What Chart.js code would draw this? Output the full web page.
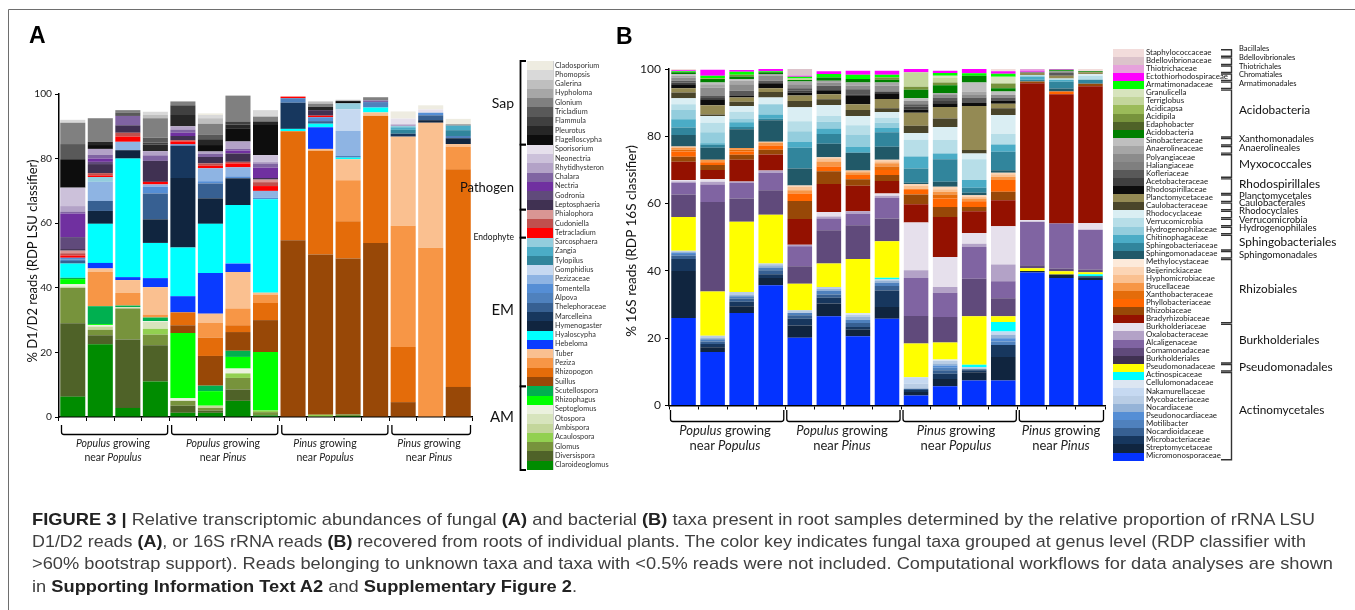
<!DOCTYPE html>
<html><head><meta charset="utf-8">
<script src="https://cdn.jsdelivr.net/npm/chart.js@4.4.1/dist/chart.umd.min.js"></script>
<style>
html,body{margin:0;padding:0;background:#fff;}
body{width:1355px;height:610px;position:relative;overflow:hidden;font-family:Lato,sans-serif;}
.abs{position:absolute;white-space:nowrap;}
canvas{position:absolute;}
.cap{position:absolute;left:32px;white-space:nowrap;font-family:"Liberation Sans",Arial,sans-serif;font-size:17px;color:#404040;height:22.4px;line-height:22.4px;}
.cap span.in{display:inline-block;transform-origin:0 50%;}
.cap b{color:#222;}
</style></head>
<body>
<canvas id="cA" width="480" height="345" style="left:0px;top:84px"></canvas>
<canvas id="cB" width="515" height="360" style="left:600px;top:55px"></canvas>
<svg id="ov" width="1355" height="610" style="position:absolute;left:0;top:0;pointer-events:none"></svg>
<script>
// ---------------- categories / groups ----------------
const sampleLabels = ['PoPo1','PoPo2','PoPo3','PoPo4','PoPi1','PoPi2','PoPi3','PoPi4','PiPo1','PiPo2','PiPo3','PiPo4','PiPi1','PiPi2','PiPi3'];
const groupSizes = [4,4,4,3];
const groupHost = ['Populus','Populus','Pinus','Pinus'];
const groupNeighbor = ['Populus','Pinus','Populus','Pinus'];
const yTicks = [0,20,40,60,80,100];

// ---------------- panel A : fungi (stack order bottom -> top) ----------------
const fungiNames = ['Claroideoglomus','Diversispora','Glomus','Acaulospora','Ambispora','Otospora','Septoglomus','Rhizophagus','Scutellospora','Suillus','Rhizopogon','Peziza','Tuber','Hebeloma','Hyaloscypha','Hymenogaster','Marcelleina','Thelephoraceae','Alpova','Tomentella','Pezizaceae','Gomphidius','Tylopilus','Zangia','Sarcosphaera','Tetracladium','Cudoniella','Phialophora','Leptosphaeria','Godronia','Nectria','Chalara','Rhytidhysteron','Neonectria','Sporisorium','Flagelloscypha','Pleurotus','Flammula','Tricladium','Glonium','Hypholoma','Galerina','Phomopsis','Cladosporium'];
const fungiColors = ['#008C00','#4F6228','#77933C','#92D050','#C3D69B','#D7E4BD','#EBF1DE','#00FF00','#00B050','#984807','#E46C0A','#F79646','#FAC090','#0A3BFF','#00FFFF','#10253F','#17375E','#376092','#4F81BD','#558ED5','#8EB4E3','#C6D9F1','#31859C','#4BACC6','#93CDDD','#FF0000','#C0504D','#D99694','#403152','#604A7B','#7030A0','#8064A2','#B3A2C7','#CCC1DA','#E6E0EC','#0D0D0D','#262626','#404040','#595959','#808080','#A6A6A6','#BFBFBF','#D9D9D9','#EEECE1'];

const fClaroideoglomus = [6.3, 22.5, 2.8, 11.0, 1.3, 1.3, 5.0, 0.5, 0, 0, 0.3, 0, 0, 0, 0];
const fDiversispora   = [22.7, 2.8, 21.2, 11.2, 2.2, 0.7, 3.5, 0, 0, 0, 0, 0, 0, 0, 0];
const fGlomus         = [11.0, 1.7, 9.6, 3.3, 1.5, 0.8, 3.6, 1.0, 0, 0, 0.5, 0, 0, 0, 0];
const fAcaulospora    = [0, 0, 0, 1.8, 0, 0, 1.4, 0.5, 0, 0.7, 0, 0, 0, 0, 0];
const fAmbispora      = [0, 1.0, 0, 0, 0, 0.7, 0, 0, 0, 0, 0, 0, 0, 0, 0];
const fOtospora       = [0.5, 0, 0.4, 2.1, 0, 0, 0, 0, 0, 0, 0, 0, 0, 0, 0];
const fSeptoglomus    = [0.6, 0.5, 0, 0.3, 0.8, 0, 1.5, 0, 0, 0, 0, 0, 0, 0, 0];
const fRhizophagus    = [1.6, 0.3, 0, 0, 20.2, 4.5, 3.6, 18.1, 0, 0, 0, 0, 0, 0, 0];
const fScutellospora  = [0.4, 5.5, 0.5, 1.1, 0, 1.7, 1.9, 0, 0, 0, 0, 0, 0, 0, 0];
const fSuillus        = [0, 0, 0, 0, 2.4, 9.2, 5.8, 9.9, 54.7, 49.6, 48.3, 53.9, 4.6, 0, 9.3];
const fRhizopogon     = [0, 0, 0, 0, 4.0, 5.7, 2.1, 5.3, 33.8, 32.1, 11.5, 39.4, 17.1, 0, 67.4];
const fPeziza         = [0, 10.6, 3.9, 0.9, 0, 4.5, 5.2, 2.6, 0, 0, 12.7, 0, 37.5, 52.4, 7.0];
const fTuber          = [0, 1.1, 4.0, 8.5, 0, 2.9, 11.3, 0.6, 0, 0.6, 6.5, 1.0, 27.6, 38.7, 0.8];
const fHebeloma       = [0, 1.7, 0.9, 2.8, 5.0, 12.6, 2.6, 0, 0, 6.7, 0, 0, 0, 0, 0];
const fHyaloscypha    = [4.4, 12.1, 36.7, 10.9, 15.1, 15.2, 18.1, 28.9, 0.7, 1.1, 0.5, 1.5, 0, 0, 0];
const fHymenogaster   = [0, 4.0, 2.6, 7.3, 21.5, 7.9, 8.3, 0, 0, 0, 0, 0, 0, 0.8, 1.8];
const fMarcelleina    = [0, 0, 0, 0, 10.0, 0, 0, 0, 8.1, 0, 0, 0, 0.9, 0, 0];
const fThelephoraceae = [0.8, 3.1, 0, 8.0, 0, 4.6, 0, 0, 0, 0.8, 0, 0, 0, 1.5, 0];
const fAlpova         = [0.5, 0, 0, 0, 0, 0, 0, 0, 1.4, 0, 0.5, 1.7, 0, 0, 0.7];
const fTomentella     = [0.5, 0, 0, 2.1, 0.4, 0.7, 0.6, 0.5, 0, 1.2, 0, 0, 0, 0.8, 0];
const fPezizaceae     = [0, 5.9, 2.6, 0.7, 0, 4.0, 2.8, 2.1, 0, 0, 7.8, 0, 0, 0, 0];
const fGomphidius     = [0, 0, 0, 0, 0, 0, 0, 0, 0, 0, 6.7, 0, 0, 0, 0];
const fTylopilus      = [0, 0, 0, 0, 0, 0, 0, 0, 0, 0, 0, 0, 1.2, 0, 1.8];
const fZangia         = [0, 0, 0, 0, 0, 0, 0, 0, 0, 0, 0, 0, 0.8, 0, 1.4];
const fSarcosphaera   = [0, 1.5, 0, 0, 0, 0, 0, 0, 0, 0, 1.8, 0, 0.4, 0, 0];
const fTetracladium   = [0.7, 0.5, 1.6, 0.8, 0.9, 0.8, 1.2, 1.5, 0.5, 0.5, 0, 0, 0, 0, 0];
const fCudoniella     = [0.7, 0.7, 1.2, 0, 0.4, 0.7, 0.5, 1.2, 0, 0, 0, 0, 0, 0, 0];
const fPhialophora    = [0.8, 0, 0, 0, 0, 0, 0, 0.8, 0, 0, 0, 0, 0, 0, 0];
const fLeptosphaeria  = [0.5, 2.8, 2.3, 6.5, 1.3, 2.0, 2.6, 0.5, 0, 1.7, 0, 0, 0, 0, 0];
const fGodronia       = [3.7, 0.7, 0, 0, 0, 0, 0, 0, 0, 0, 0, 0, 0, 0, 0];
const fNectria        = [7.3, 1.0, 0, 0, 1.0, 0, 0.9, 3.2, 0, 0, 0, 0, 0, 0, 0];
const fChalara        = [0.6, 1.2, 2.9, 1.7, 1.0, 1.0, 0.5, 1.3, 0, 0, 0, 0.5, 0, 0, 0];
const fRhytidhysteron = [1.7, 1.8, 0, 1.3, 1.0, 0.7, 2.3, 0.5, 0, 0, 0, 0, 0.5, 0, 0];
const fNeonectria     = [5.7, 0, 0, 0, 0, 0, 0, 2.1, 0, 0, 0, 0, 0, 0, 0];
const fSporisorium    = [0, 0, 0, 0, 0, 0, 0, 0, 0, 0, 0, 0, 1.8, 1.0, 0];
const fFlagelloscypha = [8.8, 1.2, 0, 0, 0, 2.0, 4.1, 9.3, 0, 0, 0.7, 0, 0, 0, 0];
const fPleurotus      = [0, 1.0, 0, 2.0, 3.5, 1.8, 1.1, 1.1, 0, 1.0, 0, 0, 0, 0, 0];
const fFlammula       = [0, 0, 0, 0.7, 3.0, 0, 1.0, 0, 0, 0, 0, 0, 0, 0, 0];
const fTricladium     = [4.7, 0, 1.1, 1.5, 0, 1.5, 0, 0, 0, 0, 0, 0, 0, 0, 0];
const fGlonium        = [6.6, 7.3, 0.7, 6.0, 1.2, 3.3, 8.0, 1.5, 0, 1.0, 0, 1.0, 0, 0, 0.4];
const fHypholoma      = [0, 0, 0, 0, 0, 0, 0, 0, 0, 0, 0, 0, 0, 0, 0];
const fGalerina       = [0, 0, 0, 1.0, 0, 1.7, 0, 0, 0, 0.7, 0.4, 0, 0, 0, 0];
const fPhomopsis      = [0.9, 0, 0, 1.0, 0, 1.0, 0, 2.0, 0, 0, 0, 0, 0, 0, 0];
const fCladosporium   = [0, 0, 0, 0, 0, 0.5, 0, 0, 0, 0, 0, 0, 2.2, 1.3, 1.7];
const fungiValues = [fClaroideoglomus,fDiversispora,fGlomus,fAcaulospora,fAmbispora,fOtospora,fSeptoglomus,fRhizophagus,fScutellospora,fSuillus,fRhizopogon,fPeziza,fTuber,fHebeloma,fHyaloscypha,fHymenogaster,fMarcelleina,fThelephoraceae,fAlpova,fTomentella,fPezizaceae,fGomphidius,fTylopilus,fZangia,fSarcosphaera,fTetracladium,fCudoniella,fPhialophora,fLeptosphaeria,fGodronia,fNectria,fChalara,fRhytidhysteron,fNeonectria,fSporisorium,fFlagelloscypha,fPleurotus,fFlammula,fTricladium,fGlonium,fHypholoma,fGalerina,fPhomopsis,fCladosporium];
// legend groups (rows counted from top of legend): [label, firstRow, lastRow, fontSize, labelY]
const fungiGroups = [['Sap',0,8,14,104],['Pathogen',9,15,13,188],['Endophyte',16,18,8.5,237.5],['EM',19,34,15,310],['AM',35,43,15,417]];

// ---------------- panel B : bacteria (stack order bottom -> top) ----------------
const bactNames = ['Micromonosporaceae','Streptomycetaceae','Microbacteriaceae','Nocardioidaceae','Motilibacter','Pseudonocardiaceae','Nocardiaceae','Mycobacteriaceae','Nakamurellaceae','Cellulomonadaceae','Actinospicaceae','Pseudomonadaceae','Burkholderiales','Comamonadaceae','Alcaligenaceae','Oxalobacteraceae','Burkholderiaceae','Bradyrhizobiaceae','Rhizobiaceae','Phyllobacteriaceae','Xanthobacteraceae','Brucellaceae','Hyphomicrobiaceae','Beijerinckiaceae','Methylocystaceae','Sphingomonadaceae','Sphingobacteriaceae','Chitinophagaceae','Hydrogenophilaceae','Verrucomicrobia','Rhodocyclaceae','Caulobacteraceae','Planctomycetaceae','Rhodospirillaceae','Acetobacteraceae','Kofleriaceae','Haliangiaceae','Polyangiaceae','Anaerolineaceae','Sinobacteraceae','Acidobacteria','Edaphobacter','Acidipila','Acidicapsa','Terriglobus','Granulicella','Armatimonadaceae','Ectothiorhodospiraceae','Thiotrichaceae','Bdellovibrionaceae','Staphylococcaceae'];
const bactColors = ['#0433FF','#10253F','#17375E','#376092','#4F81BD','#558ED5','#95B3D7','#B9CDE5','#C6D9F1','#DCE6F2','#00FFFF','#FFFF00','#403152','#604A7B','#8064A2','#B3A2C7','#E6E0EC','#941100','#984807','#FF6600','#E46C0A','#F79646','#FAC090','#FCD5B5','#FDEADA','#215968','#31859C','#4BACC6','#93CDDD','#B7DEE8','#DAEEF3','#4A452A','#948A54','#0D0D0D','#404040','#595959','#7F7F7F','#8C8C8C','#A6A6A6','#BFBFBF','#008000','#4F6228','#77933C','#9BBB59','#C3D69B','#D7E4BD','#00FF00','#FF00FF','#E6A1DC','#DCC3CB','#F2DCDB'];

const bMicromonosporaceae  = [26.0, 15.9, 27.5, 35.7, 20.1, 26.5, 20.6, 25.8, 3.0, 5.7, 7.4, 7.4, 39.5, 37.9, 37.3];
const bStreptomycetaceae   = [14.0, 1.4, 2.0, 2.2, 3.7, 3.8, 1.9, 3.5, 1.0, 2.2, 2.5, 7.0, 0.5, 1.0, 0.7];
const bMicrobacteriaceae   = [3.5, 1.0, 1.3, 1.1, 2.0, 1.7, 0.8, 4.9, 0.6, 1.5, 0.6, 3.6, 0, 0, 0.4];
const bNocardioidaceae     = [1.0, 0.7, 1.0, 1.2, 1.0, 1.0, 1.2, 1.3, 0.4, 1.1, 0.3, 0, 0, 0, 0];
const bMotilibacter        = [0.5, 0.7, 0.7, 0.8, 0.7, 1.0, 1.0, 1.0, 0, 0.7, 0, 1.0, 0, 0, 0];
const bPseudonocardiaceae  = [0.3, 0, 0, 0, 0, 0, 0, 0, 0, 0.7, 0, 1.0, 0, 0, 0];
const bNocardiaceae        = [0.4, 0.5, 0.5, 0.7, 0, 0.7, 0.8, 0.5, 0, 0.6, 0, 1.0, 0, 0, 0];
const bMycobacteriaceae    = [0.3, 0.5, 0.7, 0.5, 0.8, 0.5, 0.7, 0.5, 1.5, 0.7, 0.6, 0, 0, 0, 0];
const bNakamurellaceae     = [0, 0, 0, 0, 0, 0, 0, 0, 1.9, 0, 0, 1.0, 0, 0, 0];
const bCellulomonadaceae   = [0, 0, 0, 0, 0, 0, 0.5, 0, 0, 0.5, 0, 0, 0, 0, 0];
const bActinospicaceae     = [0, 0, 0, 0, 0, 0, 0, 0.5, 0, 0, 0.7, 2.8, 0, 0, 0.6];
const bPseudomonadaceae    = [10.0, 13.2, 20.9, 14.5, 7.9, 7.0, 16.0, 10.8, 10.0, 5.0, 14.4, 1.7, 0.8, 1.0, 0.6];
const bBurkholderiales     = [0, 0, 0, 0, 0, 0, 0, 0, 0, 0, 0, 0, 0, 0, 0];
const bComamonadaceae      = [6.7, 26.6, 6.9, 7.3, 5.2, 9.9, 10.1, 6.8, 8.2, 7.6, 11.2, 5.4, 0.9, 0.8, 0.8];
const bAlcaligenaceae      = [3.5, 5.2, 4.7, 5.2, 5.9, 3.5, 3.4, 6.1, 11.3, 7.2, 9.4, 5.0, 12.9, 13.4, 11.8];
const bOxalobacteraceae    = [0.4, 0.8, 0.4, 0.6, 0.5, 0.6, 0.7, 0.6, 2.3, 1.7, 1.0, 5.0, 0, 0, 0];
const bBurkholderiaceae    = [0.4, 0.8, 0, 0, 0, 1.3, 0, 0.7, 14.2, 8.9, 3.2, 11.4, 0.5, 0, 2.0];
const bBradyrhizobiaceae   = [5.4, 2.7, 6.4, 4.8, 7.6, 8.3, 7.6, 3.7, 5.4, 11.9, 6.4, 7.7, 40.7, 38.4, 40.7];
const bRhizobiaceae        = [1.5, 1.5, 1.5, 1.4, 5.4, 3.8, 1.9, 1.8, 2.9, 3.0, 1.3, 2.5, 0.5, 0, 0.7];
const bPhyllobacteriaceae  = [1.6, 0.8, 1.0, 1.3, 2.2, 1.4, 1.3, 1.5, 1.6, 2.5, 1.7, 3.5, 0, 0.8, 0];
const bXanthobacteraceae   = [0.5, 0, 0.5, 0, 0, 0, 0, 1.0, 0, 1.2, 0, 0, 0, 0, 0];
const bBrucellaceae        = [0.5, 0.7, 0.5, 0.7, 1.0, 1.5, 0.8, 1.0, 0, 0.8, 0.8, 1.0, 0, 0, 0];
const bHyphomicrobiaceae   = [0.5, 0, 0, 0.4, 1.0, 1.0, 0.5, 0.6, 1.0, 0.8, 0.5, 0.7, 0, 0, 0];
const bBeijerinckiaceae    = [0, 0, 0, 0, 0.4, 0.3, 0, 0.4, 0.5, 0.7, 0.5, 0.5, 0, 0, 0];
const bMethylocystaceae    = [0, 0, 0, 0, 0, 0, 0, 0, 0, 0, 0, 0, 0, 0, 0];
const bSphingomonadaceae   = [3.4, 3.6, 5.6, 6.4, 5.0, 4.0, 5.3, 3.9, 0.4, 1.5, 0.7, 0.7, 0, 0.9, 0];
const bSphingobacteriaceae = [2.2, 0.9, 0.7, 0.4, 6.2, 2.9, 0, 4.3, 4.2, 6.7, 1.5, 5.5, 0.5, 2.0, 1.2];
const bChitinophagaceae    = [2.5, 0.4, 1.4, 1.3, 1.7, 1.6, 1.7, 1.3, 3.6, 1.7, 2.3, 2.2, 1.0, 0.5, 0];
const bHydrogenophilaceae  = [2.7, 3.3, 1.1, 3.0, 3.2, 2.0, 3.7, 1.5, 0, 0, 0, 0, 0, 0, 0];
const bVerrucomicrobia     = [1.7, 2.8, 2.0, 0, 3.0, 1.7, 2.8, 1.5, 5.0, 4.0, 6.2, 3.1, 0.4, 0.5, 1.2];
const bRhodocyclaceae      = [1.8, 2.0, 1.7, 2.0, 4.1, 3.3, 2.7, 1.7, 2.0, 3.9, 1.7, 5.6, 0, 0, 0.5];
const bCaulobacteraceae    = [1.7, 0.5, 1.3, 1.7, 1.9, 1.7, 1.8, 1.1, 2.1, 2.5, 1.0, 2.0, 0, 0, 0];
const bPlanctomycetaceae   = [1.3, 2.7, 1.2, 1.1, 1.6, 1.5, 1.7, 2.8, 3.9, 3.4, 13.1, 1.4, 0.6, 0.8, 0.5];
const bRhodospirillaceae   = [1.2, 1.8, 0.5, 1.5, 0.9, 1.2, 2.5, 1.7, 1.0, 1.1, 0.9, 0.8, 0, 0, 0];
const bAcetobacteraceae    = [0.5, 0.4, 0, 0, 0.5, 0, 0.5, 0.5, 0.8, 0.7, 0, 0, 0, 0, 0];
const bKofleriaceae        = [0.5, 0.6, 1.5, 0.7, 0.8, 1.3, 1.5, 0, 0.7, 1.0, 1.6, 1.0, 0, 0.8, 0];
const bHaliangiaceae       = [0, 0, 0, 0, 0, 0, 0, 0, 0, 0, 0, 0, 0, 0, 0];
const bPolyangiaceae       = [1.0, 2.5, 2.0, 1.5, 1.2, 1.0, 1.0, 1.7, 1.0, 0.8, 0.8, 0.8, 0.4, 0.5, 0];
const bAnaerolineaceae     = [0.5, 1.0, 1.0, 0.5, 0.8, 0.5, 1.0, 1.0, 0, 0.5, 1.0, 0, 0, 0, 0];
const bSinobacteraceae     = [0.5, 0.5, 0.5, 0, 0, 0, 0, 0, 0.8, 0, 2.7, 1.0, 0, 0, 0];
const bAcidobacteria       = [0.5, 1.0, 0.8, 0.5, 0.4, 1.0, 1.0, 0.8, 2.5, 2.4, 2.0, 1.0, 0, 0.3, 0.3];
const bEdaphobacter        = [0, 0, 0, 0, 0, 0, 0, 0, 0, 0, 0, 0, 0, 0, 0];
const bAcidipila           = [0, 0, 0.5, 0, 0, 0, 0, 0.7, 0.9, 0.8, 0, 1.4, 0, 0, 0];
const bAcidicapsa          = [0, 0.3, 0, 0, 0, 0, 0, 0, 0, 0, 0, 0, 0, 0, 0];
const bTerriglobus         = [0, 0, 0, 0, 0.5, 0, 0, 0, 4.3, 1.3, 0, 0, 0, 0, 0];
const bGranulicella        = [0, 0, 0, 0, 0, 0, 0, 0, 0, 0.7, 0, 2.0, 0, 0, 0];
const bArmatimonadaceae    = [0.3, 0.7, 0.9, 0.3, 0.5, 1.0, 1.3, 0.8, 0, 0.8, 0.7, 0.9, 0, 0.2, 0];
const bEctothiorhodospiraceae = [0.3, 1.8, 0.5, 0.7, 0.3, 0.8, 1.2, 1.2, 1.0, 0.7, 1.3, 0.7, 0.3, 0.2, 0];
const bThiotrichaceae      = [0, 0, 0, 0, 0, 0, 0, 0, 0, 0, 0, 0, 0.5, 0, 0];
const bBdellovibrionaceae  = [0, 0, 0, 0, 2.0, 0, 0, 0, 0, 0, 0, 0, 0, 0, 0];
const bStaphylococcaceae   = [0.4, 0, 0, 0, 0, 0, 0, 0, 0, 0, 0, 0.7, 0, 0, 0.7];
const bactValues = [bMicromonosporaceae,bStreptomycetaceae,bMicrobacteriaceae,bNocardioidaceae,bMotilibacter,bPseudonocardiaceae,bNocardiaceae,bMycobacteriaceae,bNakamurellaceae,bCellulomonadaceae,bActinospicaceae,bPseudomonadaceae,bBurkholderiales,bComamonadaceae,bAlcaligenaceae,bOxalobacteraceae,bBurkholderiaceae,bBradyrhizobiaceae,bRhizobiaceae,bPhyllobacteriaceae,bXanthobacteraceae,bBrucellaceae,bHyphomicrobiaceae,bBeijerinckiaceae,bMethylocystaceae,bSphingomonadaceae,bSphingobacteriaceae,bChitinophagaceae,bHydrogenophilaceae,bVerrucomicrobia,bRhodocyclaceae,bCaulobacteraceae,bPlanctomycetaceae,bRhodospirillaceae,bAcetobacteraceae,bKofleriaceae,bHaliangiaceae,bPolyangiaceae,bAnaerolineaceae,bSinobacteraceae,bAcidobacteria,bEdaphobacter,bAcidipila,bAcidicapsa,bTerriglobus,bGranulicella,bArmatimonadaceae,bEctothiorhodospiraceae,bThiotrichaceae,bBdellovibrionaceae,bStaphylococcaceae];
// legend groups: [label, firstRow, lastRow, fontSize, labelY]
const bactGroups = [['Bacillales',0,0,7.5,49.3],['Bdellovibrionales',1,1,7.5,58],['Thiotrichales',2,2,7.5,67],['Chromatiales',3,3,7.5,75.3],['Armatimonadales',4,4,7.5,83.7],['Acidobacteria',5,10,11.8,111],['Xanthomonadales',11,11,9.5,139.3],['Anaerolineales',12,12,9.5,148.7],['Myxococcales',13,15,11.8,164.7],['Rhodospirillales',16,17,11.8,184.3],['Planctomycetales',18,18,9.5,196],['Caulobacterales',19,19,9.5,203.5],['Rhodocyclales',20,20,9.5,211.3],['Verrucomicrobia',21,21,9.5,220],['Hydrogenophilales',22,22,9.5,228.7],['Sphingobacteriales',23,24,11.8,242.7],['Sphingomonadales',25,25,9.5,255],['Rhizobiales',26,33,11.8,289.5],['Burkholderiales',34,38,11.8,340.7],['Pseudomonadales',39,39,11.8,367.7],['Actinomycetales',40,50,11.8,411]];

// ---------------- charts ----------------
function buildConfig(names, colors, values, o) {
  const datasets = names.map((n, i) => ({
    label: n,
    data: values[i].map(v => v === 0 ? null : v),
    backgroundColor: colors[i],
    borderWidth: 0,
    barPercentage: o.barPct,
    categoryPercentage: 1
  }));
  return {
    type: 'bar',
    data: { labels: sampleLabels, datasets },
    options: {
      responsive: false, animation: false, devicePixelRatio: 1,
      layout: { padding: { left: 0, top: o.padTop, right: o.padRight, bottom: o.padBottom } },
      plugins: { legend: { display: false }, tooltip: { enabled: false } },
      scales: {
        x: { stacked: true,
             ticks: { display: false },
             grid: { display: true, drawOnChartArea: false, drawTicks: true, tickLength: 4, color: '#000', lineWidth: 1, offset: true },
             border: { display: true, color: '#000', width: 1.5 },
             afterFit(s) { s.height = o.xH; } },
        y: { stacked: true, min: 0, max: 100,
             afterBuildTicks(s) { s.ticks = yTicks.map(v => ({ value: v })); },
             ticks: { color: '#1a1a1a', font: { family: 'Lato', size: o.tick }, padding: o.tickPad },
             grid: { display: true, drawOnChartArea: false, drawTicks: true, tickLength: 4, color: '#000', lineWidth: 1 },
             border: { display: true, color: '#000', width: 1.5 },
             afterFit(s) { s.width = o.yW; s.paddingTop = 0; s.paddingBottom = 0; } }
      }
    }
  };
}
const chartA = new Chart(document.getElementById('cA'), buildConfig(fungiNames, fungiColors, fungiValues,
  { yW: 59, padTop: 10, padRight: 8, padBottom: 4, xH: 8, tick: 10.2, tickPad: 3, barPct: 0.91 }));
const chartB = new Chart(document.getElementById('cB'), buildConfig(bactNames, bactColors, bactValues,
  { yW: 69, padTop: 14, padRight: 10, padBottom: 3.5, xH: 6, tick: 12, tickPad: 4, barPct: 0.845 }));

// ---------------- text helpers ----------------
function addText(html, x, y, o) {
  const d = document.createElement('div');
  d.className = 'abs';
  d.innerHTML = html;
  const s = o.size;
  d.style.fontSize = s + 'px';
  d.style.lineHeight = s + 'px';
  d.style.fontFamily = o.family || 'Lato, sans-serif';
  if (o.weight) d.style.fontWeight = o.weight;
  d.style.color = o.color || '#222';
  d.style.top = (y - 0.56 * s) + 'px';
  if (o.align === 'right') d.style.right = (1355 - x) + 'px';
  else if (o.align === 'center') { d.style.left = x + 'px'; d.style.transform = 'translateX(-50%)'; }
  else d.style.left = x + 'px';
  document.body.appendChild(d);
  return d;
}
function addVText(str, cx, cy, s) {
  const d = document.createElement('div');
  d.className = 'abs';
  d.textContent = str;
  d.style.fontSize = s + 'px'; d.style.lineHeight = s + 'px';
  d.style.fontFamily = 'Lato, sans-serif'; d.style.color = '#111';
  d.style.left = cx + 'px'; d.style.top = cy + 'px';
  d.style.transform = 'translate(-50%,-50%) rotate(-90deg)';
  document.body.appendChild(d);
}
function addBox(x, y, w, h, c) {
  const d = document.createElement('div');
  d.style.position = 'absolute';
  d.style.left = x + 'px'; d.style.top = y + 'px';
  d.style.width = w + 'px'; d.style.height = h + 'px';
  d.style.background = c;
  document.body.appendChild(d);
}
const svg = document.getElementById('ov');
function path(d, stroke, w) {
  const p = document.createElementNS('http://www.w3.org/2000/svg', 'path');
  p.setAttribute('d', d); p.setAttribute('fill', 'none');
  p.setAttribute('stroke', stroke); p.setAttribute('stroke-width', w);
  svg.appendChild(p);
}

// frame
path('M8.5,610 V9.5 H1355', '#6e6e6e', 1);

// panel letters
addText('A', 29, 36.5, { size: 23, family: '"Liberation Sans", Arial, sans-serif', weight: 'bold', color: '#000' });
addText('B', 616, 37.5, { size: 23, family: '"Liberation Sans", Arial, sans-serif', weight: 'bold', color: '#000' });

// y titles
addVText('% D1/D2 reads (RDP LSU classifier)', 32, 261, 13);
addVText('% 16S reads (RDP 16S classifier)', 632, 241, 13.6);

// group brackets under x axes, positioned from the chart's own x scale
function groupBrackets(chart, offX, yTop, yBot, inL, inR) {
  const xs = chart.scales.x;
  const w = (xs.right - xs.left) / sampleLabels.length;
  let start = 0;
  groupSizes.forEach(n => {
    const l = offX + xs.left + start * w + inL;
    const r = offX + xs.left + (start + n) * w - inR;
    const rad = 2.5;
    path(`M${l},${yTop} V${yBot - rad} Q${l},${yBot} ${l + rad},${yBot} H${r - rad} Q${r},${yBot} ${r},${yBot - rad} V${yTop}`, '#000', 1.3);
    start += n;
  });
}
groupBrackets(chartA, 0, 425, 434.5, 2.5, 1.5);
groupBrackets(chartB, 600, 410, 421.5, 1.5, 1.5);

const labelCentersA = [113, 223, 325, 429];
const labelCentersB = [725, 842, 956, 1061];
groupHost.forEach((h, i) => {
  addText(`<i>${h}</i> growing`, labelCentersA[i], 444, { size: 10.5, align: 'center', color: '#222' });
  addText(`near <i>${groupNeighbor[i]}</i>`, labelCentersA[i], 457.7, { size: 10.5, align: 'center', color: '#222' });
  addText(`<i>${h}</i> growing`, labelCentersB[i], 431, { size: 13, align: 'center', color: '#222' });
  addText(`near <i>${groupNeighbor[i]}</i>`, labelCentersB[i], 446, { size: 13, align: 'center', color: '#222' });
});

// ---------------- legend A ----------------
const legA = { top: 61, h: 9.295, sx: 527, sw: 26, tx: 555 };
for (let r = 0; r < fungiNames.length; r++) {
  const i = fungiNames.length - 1 - r;
  addBox(legA.sx, legA.top + r * legA.h, legA.sw, legA.h + 0.3, fungiColors[i]);
  addText(fungiNames[i], legA.tx, legA.top + r * legA.h + legA.h / 2, { size: 7.3, color: '#333' });
}
path(`M553.5,${legA.top} V${legA.top + fungiNames.length * legA.h}`, '#d0d0d0', 1);
fungiGroups.forEach(g => {
  const t = legA.top + g[1] * legA.h, b = legA.top + (g[2] + 1) * legA.h;
  path(`M526,${t} H520.5 V${b} H526`, '#000', 1.8);
  addText(g[0], 514, g[4], { size: g[3], align: 'right', color: '#111' });
});

// ---------------- legend B ----------------
const legB = { top: 49, h: 8.07, sx: 1113, sw: 31, tx: 1146 };
for (let r = 0; r < bactNames.length; r++) {
  const i = bactNames.length - 1 - r;
  addBox(legB.sx, legB.top + r * legB.h, legB.sw, legB.h + 0.3, bactColors[i]);
  addText(bactNames[i], legB.tx, legB.top + r * legB.h + legB.h / 2, { size: 7.9, color: '#222' });
}
bactGroups.forEach(g => {
  const t = legB.top + g[1] * legB.h + 0.8, b = legB.top + (g[2] + 1) * legB.h - 0.8;
  path(`M1221,${t} H1231.5 V${b} H1221`, '#333', 1.4);
  addText(g[0], 1239, g[4], { size: g[3], color: '#111' });
});

// ---------------- caption ----------------
const captionLines = [
  ['<b>FIGURE 3 |</b> Relative transcriptomic abundances of fungal <b>(A)</b> and bacterial <b>(B)</b> taxa present in root samples determined by the relative proportion of rRNA LSU', 1283],
  ['D1/D2 reads <b>(A)</b>, or 16S rRNA reads <b>(B)</b> recovered from roots of individual plants. The color key indicates fungal taxa grouped at genus level (RDP classifier with', 1274],
  ['&gt;60% bootstrap support). Reads belonging to unknown taxa and taxa with &lt;0.5% reads were not included. Computational workflows for data analyses are shown', 1301],
  ['in <b>Supporting Information Text A2</b> and <b>Supplementary Figure 2</b>.', 545]
];
const capSpans = [];
captionLines.forEach((ln, k) => {
  const d = document.createElement('div');
  d.className = 'cap';
  d.style.top = (508.5 + k * 22.4) + 'px';
  const s = document.createElement('span');
  s.className = 'in';
  s.innerHTML = ln[0];
  d.appendChild(s);
  document.body.appendChild(d);
  capSpans.push([s, ln[1]]);
});
function fitCaption() {
  capSpans.forEach(([s, w]) => {
    s.style.transform = 'none';
    const cw = s.getBoundingClientRect().width;
    if (cw > 0) s.style.transform = `scaleX(${w / cw})`;
  });
}
fitCaption();
if (document.fonts && document.fonts.ready) document.fonts.ready.then(fitCaption);
</script>
</body></html>
